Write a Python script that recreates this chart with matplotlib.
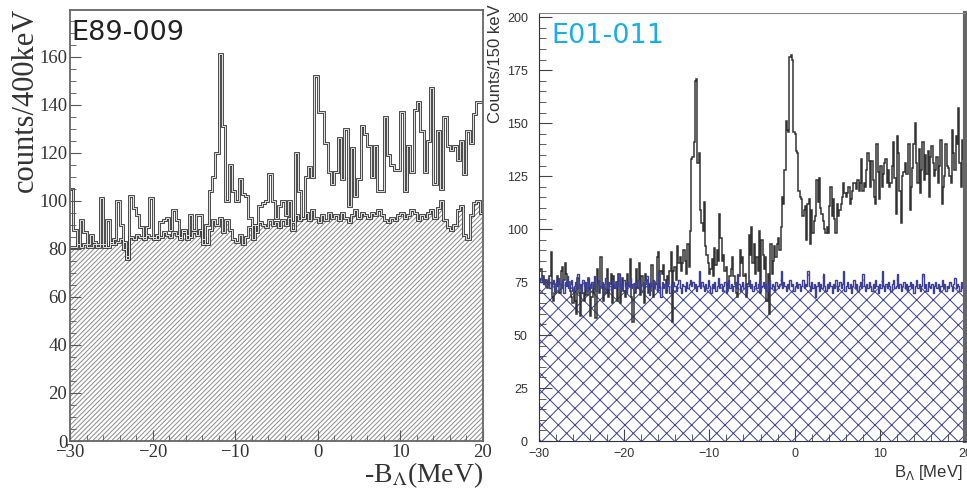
import numpy as np
import matplotlib
matplotlib.use("Agg")
import matplotlib.pyplot as plt
from matplotlib.ticker import MultipleLocator

plt.rcParams['hatch.linewidth'] = 0.7

# E89-009 : counts per 400 keV, -30..20 MeV
left_main = [
    105, 88, 82, 92, 87, 82, 86, 83, 82, 101,
    81, 92, 82, 84, 100, 90, 80, 77, 102, 97,
    94, 89, 85, 89, 101, 85, 84, 91, 92, 93,
    88, 96, 92, 84, 88, 84, 94, 88, 94, 94,
    82, 90, 104, 110, 120, 161, 131, 100, 115, 104,
    100, 109, 103, 102, 93, 84, 90, 98, 99, 100,
    111, 100, 93, 98, 100, 94, 100, 88, 120, 104,
    93, 110, 114, 110, 152, 137, 137, 124, 112, 107,
    112, 126, 109, 130, 98, 122, 102, 109, 131, 128,
    123, 110, 123, 104, 104, 135, 119, 115, 113, 113,
    137, 104, 123, 112, 138, 141, 129, 112, 125, 147,
    107, 129, 105, 135, 123, 121, 123, 117, 125, 111,
    129, 124, 136, 141, 141]
left_bg = [
    81, 81, 82, 81, 82, 81, 81, 82, 81, 82,
    82, 81, 83, 82, 83, 84, 83, 76, 85, 84,
    86, 85, 84, 86, 85, 84, 86, 85, 87, 86,
    85, 87, 86, 85, 87, 86, 85, 87, 86, 88,
    84, 82, 88, 92, 90, 93, 87, 92, 88, 84,
    83, 86, 82, 85, 89, 90, 87, 91, 90, 89,
    92, 90, 91, 89, 92, 90, 93, 91, 94, 92,
    93, 95, 92, 96, 93, 91, 94, 92, 95, 93,
    94, 92, 95, 93, 91, 94, 96, 93, 95, 94,
    93, 95, 94, 96, 94, 92, 91, 93, 92, 94,
    95, 93, 94, 96, 95, 92, 94, 93, 95, 96,
    93, 97, 100, 92, 89, 88, 90, 96, 98, 86,
    84, 94, 99, 100, 95]

# E01-011 : counts per 150 keV
right_main = [
    80, 81, 76, 78, 74, 76, 72, 75, 78, 89,
    68, 66, 70, 74, 78, 75, 70, 80, 82, 76,
    84, 79, 73, 75, 71, 68, 65, 72, 66, 60,
    77, 70, 59, 73, 70, 66, 74, 69, 77, 72,
    59, 68, 74, 70, 58, 81, 74, 70, 87, 72,
    66, 73, 70, 81, 68, 74, 79, 65, 78, 72,
    75, 66, 79, 65, 72, 77, 71, 68, 74, 79,
    73, 86, 68, 56, 74, 70, 81, 72, 84, 69,
    78, 73, 65, 79, 76, 70, 74, 71, 83, 68,
    75, 74, 87, 89, 72, 80, 79, 83, 76, 70,
    78, 74, 80, 89, 56, 80, 82, 76, 92, 84,
    87, 80, 84, 90, 85, 79, 93, 82, 99, 133,
    134, 141, 170, 171, 131, 136, 109, 103, 99, 113,
    92, 88, 84, 79, 81, 86, 78, 91, 83, 90,
    85, 107, 96, 85, 88, 80, 82, 71, 74, 78,
    81, 87, 78, 74, 70, 68, 78, 90, 84, 87,
    78, 79, 68, 74, 97, 88, 101, 84, 93, 79,
    87, 80, 99, 70, 95, 88, 81, 87, 66, 79,
    60, 93, 79, 85, 92, 87, 93, 96, 90, 101,
    115, 112, 128, 151, 147, 146, 181, 182, 180, 146,
    145, 137, 136, 118, 115, 114, 106, 109, 111, 95,
    112, 114, 93, 109, 98, 104, 106, 123, 113, 124,
    110, 107, 104, 100, 98, 101, 98, 111, 120, 106,
    114, 105, 98, 112, 106, 109, 112, 115, 122, 117,
    115, 117, 120, 112, 114, 118, 122, 122, 119, 123,
    118, 122, 133, 118, 122, 120, 128, 136, 132, 120,
    132, 123, 115, 112, 140, 127, 114, 130, 120, 126,
    131, 133, 122, 128, 120, 122, 130, 141, 124, 107,
    144, 136, 118, 103, 125, 127, 131, 126, 126, 140,
    109, 120, 129, 140, 150, 131, 122, 138, 117, 128,
    141, 123, 135, 126, 137, 115, 134, 139, 131, 125,
    128, 134, 122, 130, 142, 112, 120, 125, 140, 130,
    129, 125, 122, 147, 136, 128, 144, 140, 157, 131,
    120, 142, 133]
right_bg = [
    77, 75, 78, 74, 76, 73, 75, 77, 72, 75,
    74, 76, 71, 75, 73, 77, 74, 72, 76, 70,
    75, 73, 78, 72, 74, 76, 71, 73, 75, 72,
    79, 72, 74, 70, 76, 73, 75, 71, 77, 74,
    72, 75, 73, 78, 71, 74, 76, 72, 73, 75,
    70, 74, 77, 72, 75, 73, 71, 76, 74, 72,
    75, 73, 79, 71, 74, 72, 76, 73, 70, 75,
    73, 77, 72, 74, 71, 75, 73, 76, 72, 74,
    71, 75, 73, 74, 78, 72, 69, 75, 73, 76,
    72, 74, 71, 80, 73, 68, 75, 72, 74, 71,
    76, 73, 70, 74, 72, 75, 73, 71, 74, 76,
    72, 70, 74, 73, 71, 75, 72, 74, 76, 73,
    75, 72, 74, 71, 73, 80, 72, 75, 73, 71,
    74, 72, 76, 73, 70, 74, 72, 75, 71, 73,
    77, 72, 74, 71, 73, 75, 70, 73, 76, 72,
    74, 71, 73, 75, 72, 79, 74, 71, 73, 75,
    72, 74, 70, 73, 76, 72, 74, 71, 73, 75,
    72, 74, 76, 71, 73, 75, 72, 74, 71, 73,
    76, 72, 74, 73, 71, 75, 73, 72, 74, 80,
    72, 75, 73, 71, 74, 72, 76, 73, 74, 71,
    73, 75, 72, 74, 71, 73, 76, 72, 74, 73,
    80, 73, 71, 75, 72, 74, 68, 73, 75, 71,
    74, 72, 79, 73, 71, 74, 72, 75, 73, 70,
    74, 72, 76, 71, 73, 75, 72, 74, 80, 71,
    73, 75, 72, 74, 70, 73, 76, 72, 74, 71,
    73, 75, 72, 79, 73, 71, 74, 72, 75, 73,
    71, 74, 72, 76, 73, 70, 74, 72, 80, 73,
    71, 74, 72, 75, 73, 71, 74, 76, 72, 73,
    79, 72, 74, 71, 73, 75, 72, 74, 71, 73,
    75, 72, 74, 70, 73, 76, 72, 74, 71, 73,
    79, 72, 74, 71, 75, 73, 72, 74, 70, 73,
    75, 72, 74, 71, 73, 76, 72, 74, 71, 73,
    72, 75, 73, 71, 74, 77, 72, 74, 73, 71,
    75, 72, 74]

left_edges = -30 + 0.4 * np.arange(len(left_main) + 1)
right_edges = -30 + 0.15 * np.arange(len(right_main) + 1)

serif = ['Liberation Serif', 'DejaVu Serif']
sans = ['Liberation Sans', 'DejaVu Sans']

fig = plt.figure(figsize=(9.67, 4.93), dpi=100)

# ---- left panel ----
ax1 = fig.add_axes([70/967, 52/493, 413/967, 431/493])
lb = np.append(left_bg, left_bg[-1])
ax1.fill_between(left_edges, lb, step='post', facecolor='none',
                 edgecolor='#8a8a8a', linewidth=0, hatch='/' * 7)
for lw, c in [(2.0, '#3a3a3a'), (0.7, '#e4e4e4')]:
    ax1.stairs(left_bg, left_edges, color=c, lw=lw, baseline=None)
    ax1.stairs(left_main, left_edges, color=c, lw=lw, baseline=None)
ax1.set_xlim(-30, 20)
ax1.set_ylim(0, 179.5)
ax1.yaxis.set_major_locator(MultipleLocator(20))
ax1.yaxis.set_minor_locator(MultipleLocator(5))
ax1.xaxis.set_major_locator(MultipleLocator(10))
ax1.xaxis.set_minor_locator(MultipleLocator(2))
ax1.tick_params(which='both', direction='in', top=False, right=False,
                color='#555555')
ax1.tick_params(which='major', length=8)
ax1.tick_params(which='minor', length=4)
ax1.tick_params(axis='y', pad=2)
ax1.tick_params(axis='x', pad=2)
for lab in ax1.get_xticklabels() + ax1.get_yticklabels():
    lab.set_family(serif)
    lab.set_fontsize(13.5)
    lab.set_color('#333333')
for s in ax1.spines.values():
    s.set_color('#666666')
    s.set_linewidth(1.3)
ax1.text(0.004, 0.977, 'E89-009', transform=ax1.transAxes, ha='left', va='top',
         fontsize=19.5, family='DejaVu Sans', color='#222222')
fig.text(25/967, 1 - 8/493, 'counts/400keV', rotation=90, ha='center', va='top',
         fontsize=22, family=serif, color='#333333')
fig.text(483/967, 1 - 460/493, r'-B$_{\Lambda}$(MeV)', ha='right', va='top',
         fontsize=20, family=serif, math_fontfamily='stix', color='#333333')

# ---- right panel ----
blue = '#3b3f98'
ax2 = fig.add_axes([539/967, 52/493, 426/967, 428/493])
rb = np.append(right_bg, right_bg[-1])
ax2.fill_between(right_edges, rb, step='post', facecolor='none',
                 edgecolor=blue, linewidth=0, hatch='xx')
ax2.stairs(right_main, right_edges, color='#333333', lw=1.1, baseline=None)
ax2.stairs(right_bg, right_edges, color=blue, lw=1.0, baseline=None)
ax2.set_xlim(-30, 20)
ax2.set_ylim(0, 202)
ax2.yaxis.set_major_locator(MultipleLocator(25))
ax2.yaxis.set_minor_locator(MultipleLocator(5))
ax2.xaxis.set_major_locator(MultipleLocator(10))
ax2.xaxis.set_minor_locator(MultipleLocator(2))
ax2.tick_params(which='both', direction='in', top=False, right=False,
                color='#444444')
ax2.tick_params(which='major', length=9)
ax2.tick_params(which='minor', length=5)
ax2.tick_params(axis='y', pad=8)
ax2.tick_params(axis='x', pad=5)
for lab in ax2.get_xticklabels() + ax2.get_yticklabels():
    lab.set_family(sans)
    lab.set_fontsize(9)
    lab.set_color('#333333')
ax2.spines['left'].set_color('#333333')
ax2.spines['bottom'].set_color('#333333')
ax2.spines['top'].set_color('#888888')
ax2.spines['right'].set_color('#666666')
ax2.spines['right'].set_linewidth(3)
ax2.text(0.028, 0.977, 'E01-011', transform=ax2.transAxes, ha='left', va='top',
         fontsize=19.5, family='DejaVu Sans', color='#1aaee8')
fig.text(495/967, 1 - 4/493, 'Counts/150 keV', rotation=90, ha='center', va='top',
         fontsize=12, family=sans, color='#333333')
fig.text(963/967, 1 - 463/493, r'B$_{\Lambda}$ [MeV]', ha='right', va='top',
         fontsize=12, family=sans, math_fontfamily='dejavusans', color='#333333')

fig.savefig('out.png', dpi=100)
